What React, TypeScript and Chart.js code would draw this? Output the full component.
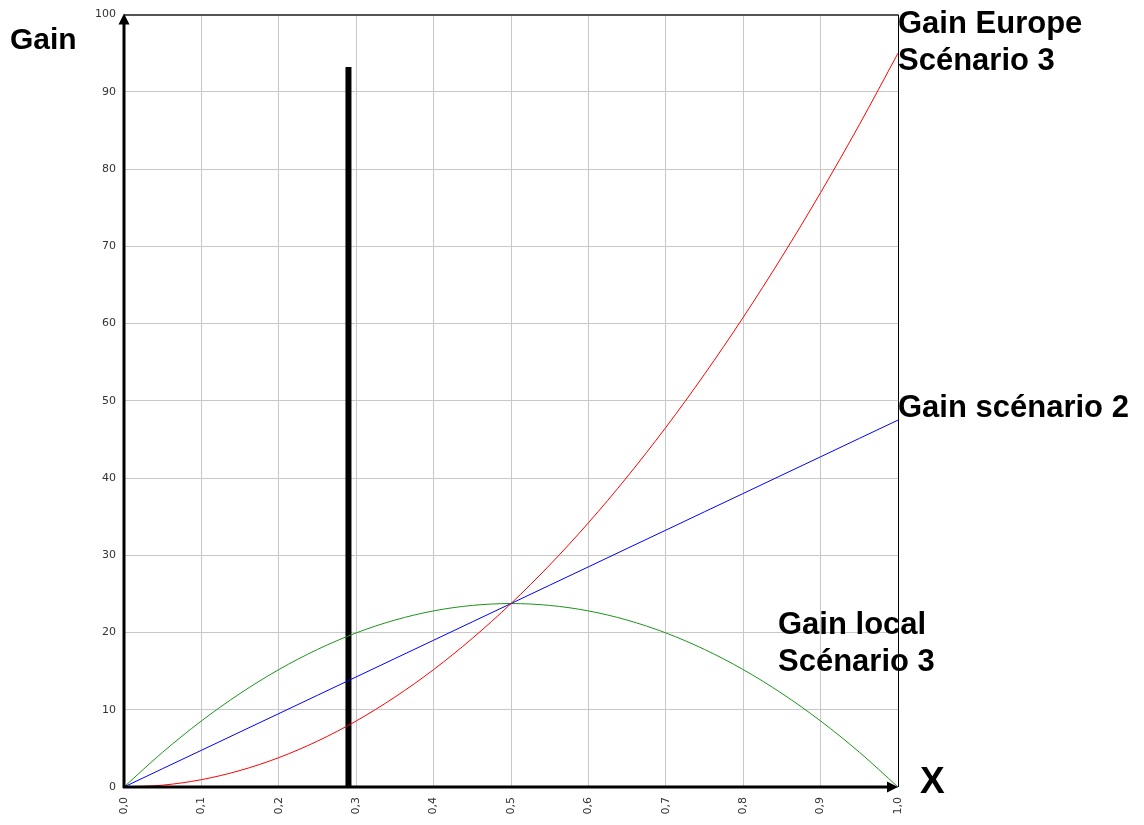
import React, { useEffect, useRef } from "react";
import { Chart, registerables } from "chart.js";

Chart.register(...registerables);

const xValues = [0, 0.05, 0.1, 0.15, 0.2, 0.25, 0.3, 0.35, 0.4, 0.45, 0.5, 0.55, 0.6, 0.65, 0.7, 0.75, 0.8, 0.85, 0.9, 0.95, 1];
const europeValues = [0, 0.24, 0.95, 2.14, 3.8, 5.94, 8.55, 11.64, 15.2, 19.24, 23.75, 28.74, 34.2, 40.14, 46.55, 53.44, 60.8, 68.64, 76.95, 85.74, 95];
const scenario2Values = [0, 2.38, 4.75, 7.13, 9.5, 11.88, 14.25, 16.63, 19.0, 21.38, 23.75, 26.13, 28.5, 30.88, 33.25, 35.63, 38.0, 40.38, 42.75, 45.13, 47.5];
const localValues = [0, 4.51, 8.55, 12.11, 15.2, 17.81, 19.95, 21.61, 22.8, 23.51, 23.75, 23.51, 22.8, 21.61, 19.95, 17.81, 15.2, 12.11, 8.55, 4.51, 0];
const markerX = [0.29, 0.29];
const markerY = [0, 93.2];

const yAxisTitle = "Gain";
const xAxisTitle = "X";
const europeLabel = ["Gain Europe", "Scénario 3"];
const scenario2Label = ["Gain scénario 2"];
const localLabel = ["Gain local", "Scénario 3"];

const toPoints = (xs: number[], ys: number[]) => xs.map((x, i) => ({ x, y: ys[i] }));

const overlayPlugin = {
  id: "overlay",
  afterDraw(chart: any) {
    const { ctx, chartArea } = chart;
    const { left, right, top, bottom } = chartArea;
    ctx.save();
    ctx.fillStyle = "#000";
    ctx.strokeStyle = "#000";
    // y axis
    ctx.lineWidth = 3;
    ctx.beginPath();
    ctx.moveTo(left, bottom + 1);
    ctx.lineTo(left, top + 8);
    ctx.stroke();
    ctx.beginPath();
    ctx.moveTo(left, top - 1);
    ctx.lineTo(left - 5.5, top + 10);
    ctx.lineTo(left + 5.5, top + 10);
    ctx.closePath();
    ctx.fill();
    // x axis
    ctx.beginPath();
    ctx.moveTo(left - 1, bottom);
    ctx.lineTo(right - 8, bottom);
    ctx.stroke();
    ctx.beginPath();
    ctx.moveTo(right, bottom);
    ctx.lineTo(right - 11, bottom - 5.5);
    ctx.lineTo(right - 11, bottom + 5.5);
    ctx.closePath();
    ctx.fill();

    // labels
    ctx.textAlign = "left";
    ctx.textBaseline = "alphabetic";
    ctx.font = "bold 30px 'Liberation Sans', Arial, sans-serif";
    ctx.fillText(yAxisTitle, 10, 49);
    ctx.font = "bold 31px 'Liberation Sans', Arial, sans-serif";
    europeLabel.forEach((t, i) => ctx.fillText(t, 898, 33 + i * 37));
    scenario2Label.forEach((t, i) => ctx.fillText(t, 898, 417 + i * 37));
    localLabel.forEach((t, i) => ctx.fillText(t, 778, 634 + i * 37));
    ctx.font = "bold 37px 'Liberation Sans', Arial, sans-serif";
    ctx.fillText(xAxisTitle, 920, 793);
    ctx.restore();
  },
};

export default function App() {
  const ref = useRef<HTMLCanvasElement>(null);
  useEffect(() => {
    if (!ref.current) return;
    const chart = new Chart(ref.current, {
      type: "line",
      data: {
        datasets: [
          {
            label: "Gain Europe Scénario 3",
            data: toPoints(xValues, europeValues),
            borderColor: "#ff0000",
            borderWidth: 1,
            pointRadius: 0,
            cubicInterpolationMode: "monotone",
          },
          {
            label: "Gain scénario 2",
            data: toPoints(xValues, scenario2Values),
            borderColor: "#0000ff",
            borderWidth: 1,
            pointRadius: 0,
          },
          {
            label: "Gain local Scénario 3",
            data: toPoints(xValues, localValues),
            borderColor: "#1c941c",
            borderWidth: 1,
            pointRadius: 0,
            cubicInterpolationMode: "monotone",
          },
          {
            label: "x",
            data: toPoints(markerX, markerY),
            borderColor: "#000000",
            borderWidth: 6,
            borderCapStyle: "butt",
            pointRadius: 0,
          },
        ],
      },
      options: {
        animation: false,
        responsive: false,
        devicePixelRatio: 1,
        layout: { padding: { left: 0, right: 246, top: 14, bottom: 0 } },
        plugins: { legend: { display: false }, tooltip: { enabled: false } },
        scales: {
          x: {
            type: "linear",
            min: 0,
            max: 1,
            afterFit: (s: any) => { s.height = 38; },
            border: { display: false },
            grid: {
              drawTicks: false,
              color: (c: any) => (c.tick && c.tick.value === 1 ? "#000000" : "#c8c8c8"),
              lineWidth: 1,
            },
            ticks: {
              stepSize: 0.1,
              minRotation: 90,
              maxRotation: 90,
              padding: 10,
              color: "#333",
              font: { family: "'DejaVu Sans', Verdana, sans-serif", size: 11 },
              callback: (v: any) => Number(v).toFixed(1).replace(".", ","),
            },
          },
          y: {
            type: "linear",
            min: 0,
            max: 100,
            afterFit: (s: any) => { s.width = 124; },
            border: { display: false },
            grid: {
              drawTicks: false,
              color: (c: any) => (c.tick && c.tick.value === 100 ? "#555555" : "#c8c8c8"),
              lineWidth: (c: any) => (c.tick && c.tick.value === 100 ? 2 : 1),
            },
            ticks: {
              stepSize: 10,
              padding: 8,
              color: "#333",
              font: { family: "'DejaVu Sans', Verdana, sans-serif", size: 11 },
            },
          },
        },
      },
      plugins: [overlayPlugin],
    } as any);
    return () => chart.destroy();
  }, []);
  return (
    <div style={{ position: "absolute", left: 0, top: 0, width: 1144, height: 825, background: "#fff" }}>
      <canvas ref={ref} width={1144} height={825} style={{ display: "block" }} />
    </div>
  );
}
